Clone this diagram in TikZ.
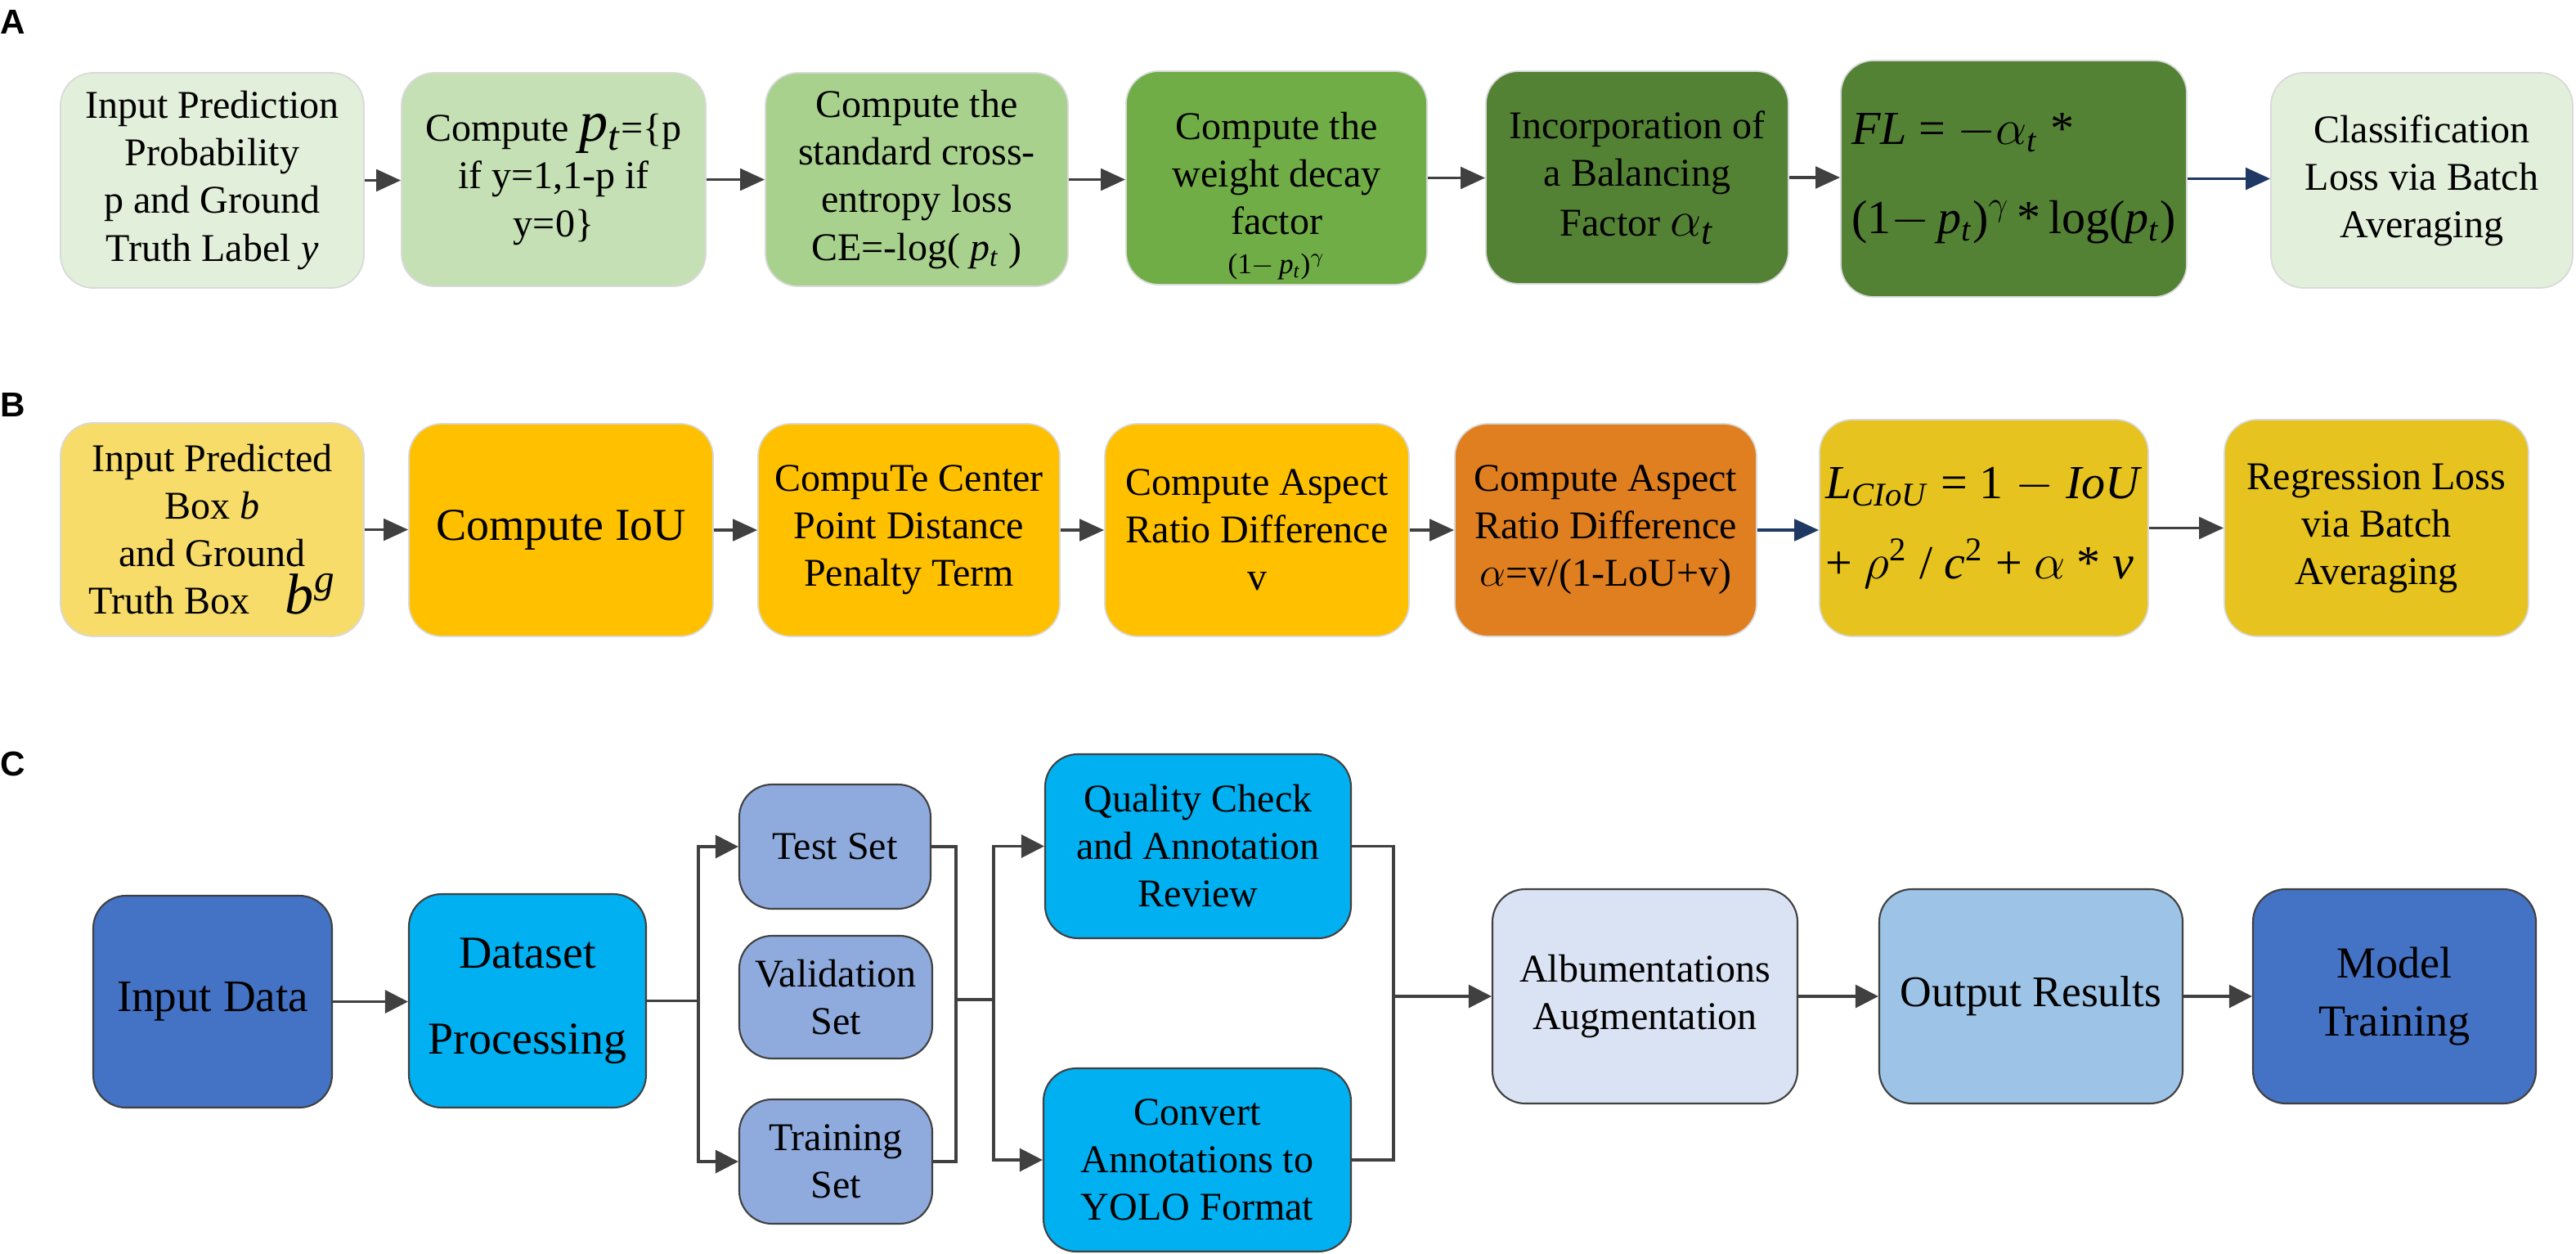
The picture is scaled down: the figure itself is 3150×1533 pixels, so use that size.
\documentclass[tikz,border=0pt]{standalone}
\usepackage{fontspec}
\setmainfont{Liberation Serif}
\newfontfamily\labfont{Liberation Sans}
\usetikzlibrary{arrows.meta}
\definecolor{gA1}{HTML}{E2EFDA}
\definecolor{gA2}{HTML}{C5E0B4}
\definecolor{gA3}{HTML}{A9D18E}
\definecolor{gA4}{HTML}{70AD47}
\definecolor{gA5}{HTML}{548235}
\definecolor{yB1}{HTML}{F7DC6A}
\definecolor{yB2}{HTML}{FFC000}
\definecolor{oB5}{HTML}{E07F20}
\definecolor{yB6}{HTML}{E6C31E}
\definecolor{bC1}{HTML}{4472C4}
\definecolor{bC2}{HTML}{00B0F0}
\definecolor{bSet}{HTML}{8FAADC}
\definecolor{bAlb}{HTML}{DAE3F3}
\definecolor{bOut}{HTML}{9DC3E6}
\definecolor{arrgray}{HTML}{404040}
\definecolor{navy}{HTML}{203864}
\newcommand\mi[1]{\textit{#1}}
\newcommand\sbt[1]{\textsubscript{#1}}
\newcommand\spt[1]{\textsuperscript{#1}}
\newcommand\fsz[2]{\fontsize{#1}{#2}\selectfont}
\newcommand\bx[7]{%
  \pgfmathsetmacro\bxw{(#4-#2)*0.01}%
  \pgfmathsetmacro\bxh{(#5-#3)*0.01}%
  \pgfmathsetmacro\bxx{(#2+#4)/2}%
  \pgfmathsetmacro\bxy{(#3+#5)/2}%
  \node[#6,minimum width=\bxw cm,minimum height=\bxh cm] (#1) at (\bxx,\bxy) {#7};}
\tikzset{
  base/.style={rectangle,rounded corners=0.4cm,inner sep=0pt,align=center,text=black,
    font=\fsz{13.66}{16.5}},
  boxA/.style={base,draw=black!15,line width=0.5pt},
  boxC/.style={base,draw=black!75,line width=0.6pt},
  arr/.style={draw=arrgray,line width=1.1pt,-{Triangle[length=8.5pt,width=7.5pt]}},
  arrN/.style={arr,draw=navy},
  arrC/.style={draw=arrgray,line width=0.9pt,-{Triangle[length=8pt,width=8pt]}},
  ln/.style={draw=arrgray,line width=0.9pt},
  lab/.style={anchor=west,inner sep=0pt,font=\labfont\bfseries\fsz{12}{14}}
}
\begin{document}
\begin{tikzpicture}[x=0.01cm,y=-0.01cm]
\useasboundingbox (0,0) rectangle (3150,1533);
% labels
\node[lab] (labA) at (0,27) {A};
\node[lab] (labB) at (0,495) {B};
\node[lab] (labC) at (0,934) {C};
% ---------------- Row A
\bx{A1}{74}{89}{445}{352}{boxA,fill=gA1}{Input Prediction\\ Probability\\ p and Ground\\ Truth Label \mi{y}}
\bx{A2}{491}{89}{863}{350}{boxA,fill=gA2}{Compute {\fsz{20}{16.5}\mi{p}\sbt{\mi{t}}}=\{p\\ if y=1,1-p if\\ y=0\}}
\bx{A3}{936}{89}{1306}{350}{boxA,fill=gA3}{Compute the\\ standard cross-\\ entropy loss\\ CE=-log( \mi{p}\sbt{\mi{t}} )}
\bx{A4}{1377}{87}{1745}{348}{boxA,fill=gA4}{\rule{0pt}{22pt}Compute the\\ weight decay\\ factor\\[-3pt] {\fsz{10}{12}(1$-$\,\mi{p}\sbt{\mi{t}})$^{\gamma}$}}
\bx{A5}{1817}{87}{2187}{347}{boxA,fill=gA5}{Incorporation of\\ a Balancing\\[1pt] Factor {\fsz{19}{16.5}$\alpha$\sbt{\mi{t}}}}
\bx{A6}{2251}{74}{2674}{363}{boxA,fill=gA5,align=left,font=\fsz{16.5}{19}}{\mi{FL} = $-\alpha$\sbt{\mi{t}} *\\[12pt] (1$-$\,\mi{p}\sbt{\mi{t}})$^{\gamma}$\,*\,log(\mi{p}\sbt{\mi{t}})}
\bx{A7}{2777}{89}{3146}{352}{boxA,fill=gA1}{Classification\\ Loss via Batch\\ Averaging}
\draw[arr] (A1.east) -- (A1.east -| A2.west);
\draw[arr] (A2.east) -- (A2.east -| A3.west);
\draw[arr] (A3.east) -- (A3.east -| A4.west);
\draw[arr] (A4.east) -- (A4.east -| A5.west);
\draw[arr] (A5.east) -- (A5.east -| A6.west);
\draw[arrN] (A6.east) -- (A6.east -| A7.west);
% ---------------- Row B
\bx{B1}{74}{517}{445}{778}{boxA,fill=yB1}{Input Predicted\\ Box \mi{b}\\ and Ground\\ Truth Box\hspace{0.9em}{\fsz{20}{16.5}\mi{b}\spt{\mi{g}}}}
\bx{B2}{500}{518}{872}{778}{boxA,fill=yB2,font=\fsz{15.9}{18}}{Compute IoU}
\bx{B3}{927}{518}{1296}{778}{boxA,fill=yB2}{CompuTe Center\\ Point Distance\\ Penalty Term}
\bx{B4}{1351}{518}{1723}{778}{boxA,fill=yB2}{Compute Aspect\\ Ratio Difference\\ v}
\bx{B5}{1779}{518}{2148}{778}{boxA,fill=oB5}{Compute Aspect\\ Ratio Difference\\ $\alpha$=v/(1-LoU+v)}
\bx{B6}{2225}{513}{2627}{778}{boxA,fill=yB6,align=left,font=\fsz{16.5}{19}}{\mi{L}\sbt{\mi{CIoU}} = 1 $-$ \mi{IoU}\\[9pt] + $\rho$\spt{2} / \mi{c}\spt{2} + $\alpha$ * \mi{v}}
\bx{B7}{2720}{513}{3092}{778}{boxA,fill=yB6}{Regression Loss\\ via Batch\\ Averaging}
\draw[arr] (B1.east) -- (B1.east -| B2.west);
\draw[arr] (B2.east) -- (B2.east -| B3.west);
\draw[arr] (B3.east) -- (B3.east -| B4.west);
\draw[arr] (B4.east) -- (B4.east -| B5.west);
\draw[arrN] (B5.east) -- (B5.east -| B6.west);
\draw[arr] (B6.east) -- (B6.east -| B7.west);
% ---------------- Row C
\bx{C1}{114}{1095}{406}{1354}{boxC,fill=bC1,font=\fsz{15.65}{18}}{Input Data}
\bx{C2}{500}{1093}{790}{1354}{boxC,fill=bC2,font=\fsz{15.9}{30}}{Dataset\\ Processing}
\bx{Test}{904}{959}{1138}{1111}{boxC,fill=bSet}{Test Set}
\bx{Val}{904}{1144}{1140}{1294}{boxC,fill=bSet}{Validation\\ Set}
\bx{Train}{904}{1344}{1140}{1496}{boxC,fill=bSet}{Training\\ Set}
\bx{QC}{1278}{922}{1652}{1147}{boxC,fill=bC2}{Quality Check\\ and Annotation\\ Review}
\bx{Conv}{1276}{1306}{1652}{1530}{boxC,fill=bC2}{Convert\\ Annotations to\\ YOLO Format}
\bx{Alb}{1825}{1087}{2198}{1349}{boxC,fill=bAlb}{Albumentations\\ Augmentation}
\bx{Out}{2298}{1087}{2669}{1349}{boxC,fill=bOut,font=\fsz{15.2}{18}}{Output Results}
\bx{Model}{2755}{1087}{3101}{1349}{boxC,fill=bC1,font=\fsz{15.4}{20}}{Model\\ Training}
\coordinate (bus1) at (854,1222);
\coordinate (bus2) at (1169,1222);
\coordinate (bus3) at (1215,1222);
\coordinate (bus4) at (1704,1218);
\draw[arrC] (C1.east) -- (C1.east -| C2.west);
\draw[ln] (C2.east) -- (C2.east -| bus1);
\draw[arrC] (bus1) |- (Test.west);
\draw[arrC] (bus1) |- (Train.west);
\draw[ln] (Test.east) -| (bus2);
\draw[ln] (Train.east) -| (bus2);
\draw[ln] (bus2) -- (bus3);
\draw[arrC] (bus3) |- (QC.west);
\draw[arrC] (bus3) |- (Conv.west);
\draw[ln] (QC.east) -| (bus4);
\draw[ln] (Conv.east) -| (bus4);
\draw[arrC] (bus4) -- (bus4 -| Alb.west);
\draw[arrC] (Alb.east) -- (Alb.east -| Out.west);
\draw[arrC] (Out.east) -- (Out.east -| Model.west);
\end{tikzpicture}
\end{document}
